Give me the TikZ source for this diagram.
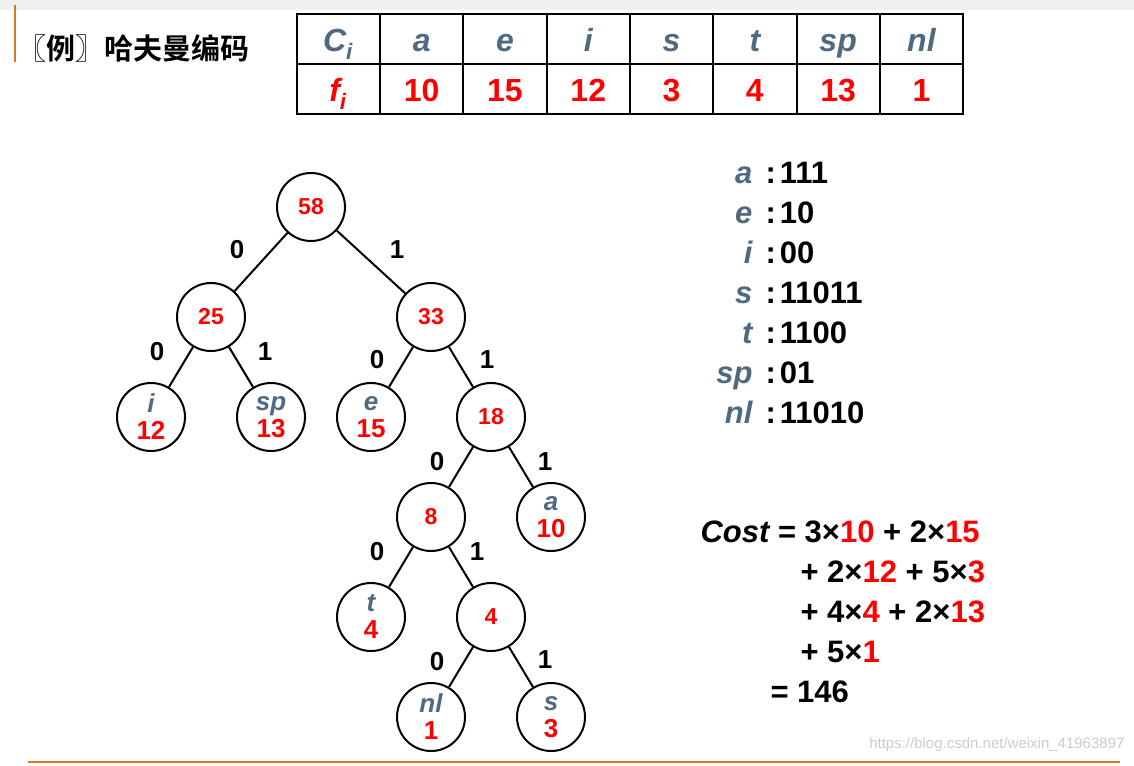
\documentclass[tikz,border=0pt]{standalone}
\usepackage{fontspec}
\setmainfont{Liberation Sans}
\newfontfamily\cjk{Noto Sans CJK SC}[BoldFont={Noto Sans CJK SC Bold}]
\definecolor{lbl}{HTML}{4F6A80}
\definecolor{rd}{HTML}{FF0000}
\definecolor{org}{HTML}{D97A1E}
\begin{document}
\begin{tikzpicture}[x=1pt,y=-1pt,
 nd/.style={circle,draw,line width=2pt,minimum size=68pt,inner sep=0pt,font=\fontsize{23}{23}\selectfont\bfseries,text=rd},
 lf/.style={nd,align=center,font=\fontsize{26}{27}\selectfont\bfseries},
 el/.style={font=\fontsize{26}{26}\selectfont\bfseries},
 ed/.style={line width=2pt},
 tc/.style={font=\fontsize{32}{32}\selectfont\bfseries,anchor=base},
 cd/.style={font=\fontsize{31}{31}\selectfont\bfseries,anchor=base west}]
\useasboundingbox (0,0) rectangle (1134,765);
\fill[gray!12] (0,0) rectangle (1134,10);
\draw[org,line width=1.5pt] (15,5) -- (15,62);
\draw[org,line width=2pt] (28,762) -- (1120,762);
\node[anchor=west,font=\cjk\bfseries\fontsize{29}{29}\selectfont] (title) at (14,48) {〖例〗哈夫曼编码};
% table
\draw[line width=2.5pt] (297,14) rectangle (963,114);
\draw[line width=2pt] (297,64) -- (963,64);
\foreach \x in {380,463,547,630,713,797,880}{\draw[line width=2pt] (\x,14) -- (\x,114);}
\node[tc,text=lbl] (h0) at (338,52) {\itshape C\textsubscript{\itshape i}};
\node[tc,text=rd] (f0) at (338,102) {\itshape f\textsubscript{\itshape i}};
\foreach \c/\f [count=\k] in {a/10,e/15,i/12,s/3,t/4,sp/13,nl/1}{
  \pgfmathsetmacro{\xx}{380+83.3*(\k-0.5)}
  \node[tc,text=lbl] (h\k) at (\xx,52) {\itshape\c};
  \node[tc,text=rd] (f\k) at (\xx,102) {\f};
}
% tree
\node[nd] (n58) at (311,207) {58};
\node[nd] (n25) at (211,317) {25};
\node[nd] (n33) at (431,317) {33};
\node[lf] (ni) at (151,417) {\textcolor{lbl}{\itshape i}\\12};
\node[lf] (nsp) at (271,417) {\textcolor{lbl}{\itshape sp}\\13};
\node[lf] (ne) at (371,417) {\textcolor{lbl}{\itshape e}\\15};
\node[nd] (n18) at (491,417) {18};
\node[nd] (n8) at (431,517) {8};
\node[lf] (na) at (551,517) {\textcolor{lbl}{\itshape a}\\10};
\node[lf] (nt) at (371,617) {\textcolor{lbl}{\itshape t}\\4};
\node[nd] (n4) at (491,617) {4};
\node[lf] (nnl) at (431,717) {\textcolor{lbl}{\itshape nl}\\1};
\node[lf] (ns) at (551,717) {\textcolor{lbl}{\itshape s}\\3};
\foreach \a/\b in {n58/n25,n58/n33,n25/ni,n25/nsp,n33/ne,n33/n18,n18/n8,n18/na,n8/nt,n8/n4,n4/nnl,n4/ns}{\draw[ed] (\a) -- (\b);}
\foreach \p/\t [count=\k] in {{237,250}/0,{397,250}/1,{157,352}/0,{265,352}/1,{377,360}/0,{487,360}/1,{437,462}/0,{545,462}/1,{377,552}/0,{477,552}/1,{437,662}/0,{545,660}/1}{\node[el] (e\k) at (\p) {\t};}
% codes
\foreach \c/\v [count=\k] in {a/111,e/10,i/00,s/11011,t/1100,sp/01,nl/11010}{
  \pgfmathsetmacro{\yy}{183+40*(\k-1)}
  \node[cd,text=lbl,anchor=base east] (c\k) at (756,\yy) {\itshape\c};
  \node[cd] (v\k) at (762,\yy) {:\hspace{4pt}\v};
}
% cost
\node[cd] (cost1) at (697,542) {\itshape Cost\upshape{} = 3×\textcolor{rd}{10} + 2×\textcolor{rd}{15}};
\node[cd] (cost2) at (797,582) {+ 2×\textcolor{rd}{12} + 5×\textcolor{rd}{3}};
\node[cd] (cost3) at (797,622) {+ 4×\textcolor{rd}{4} + 2×\textcolor{rd}{13}};
\node[cd] (cost4) at (797,662) {+ 5×\textcolor{rd}{1}};
\node[cd] (cost5) at (767,702) {= 146};
\node[anchor=east,text=gray!40,font=\fontsize{15}{15}\selectfont] (wm) at (1128,745) {https://blog.csdn.net/weixin\_41963897};
\end{tikzpicture}
\end{document}
